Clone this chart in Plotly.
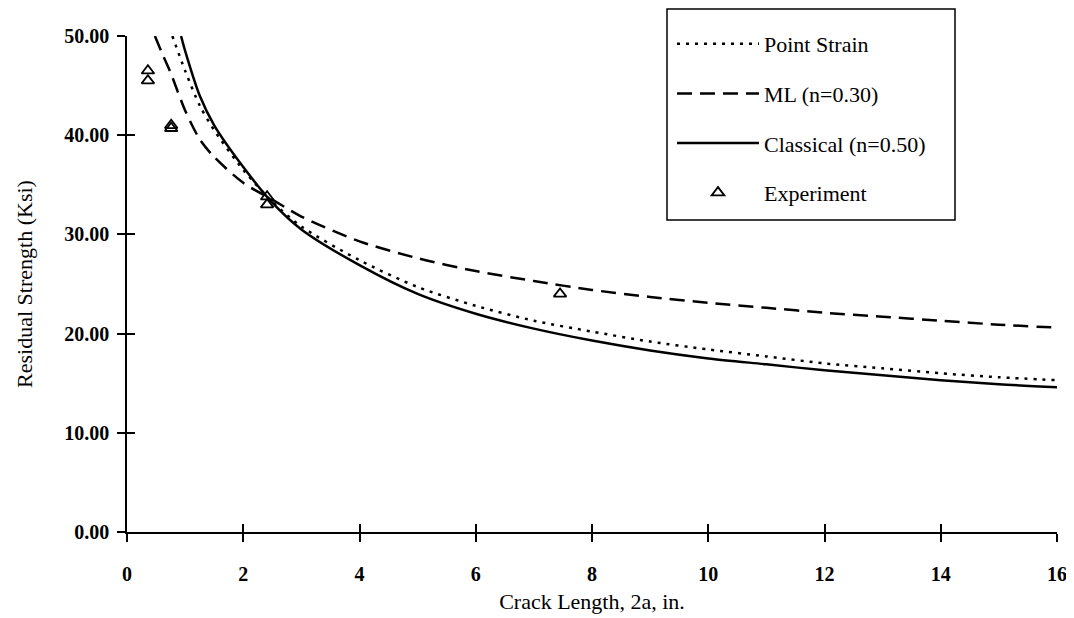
import plotly.graph_objects as go

# Point Strain (dotted)
ps_x = [0.78, 1.0, 1.25, 1.5, 2.0, 2.5, 3.0, 4, 5, 6, 7, 8, 9, 10, 11, 12, 13, 14, 15, 16]
ps_y = [50, 46.5, 43.0, 40.5, 36.5, 33.3, 30.8, 27.4, 24.7, 22.8, 21.3, 20.2, 19.2, 18.4, 17.7, 17.0, 16.5, 16.0, 15.6, 15.3]

# ML (n=0.30) (dashed)
ml_x = [0.48, 0.6, 0.75, 1.0, 1.25, 1.5, 2.0, 2.5, 3.0, 4, 5, 6, 7, 8, 9, 10, 11, 12, 13, 14, 15, 16]
ml_y = [50, 48.3, 46.3, 42.5, 39.6, 37.8, 35.2, 33.5, 31.8, 29.3, 27.6, 26.3, 25.3, 24.4, 23.7, 23.1, 22.6, 22.1, 21.7, 21.3, 20.9, 20.6]

# Classical (n=0.50) (solid)
cl_x = [0.93, 1.0, 1.25, 1.5, 2.0, 2.5, 3.0, 4, 5, 6, 7, 8, 9, 10, 11, 12, 13, 14, 15, 16]
cl_y = [50, 48.5, 44.0, 41.0, 36.8, 33.2, 30.5, 26.9, 24.0, 22.0, 20.5, 19.3, 18.3, 17.5, 16.9, 16.3, 15.8, 15.3, 14.9, 14.6]

# Experiment
ex_x = [0.36, 0.36, 0.76, 0.76, 2.41, 2.41, 7.45]
ex_y = [46.5, 45.5, 41.0, 40.7, 33.8, 33.0, 24.0]

x_ticks = [0, 2, 4, 6, 8, 10, 12, 14, 16]
y_ticks = [0, 10, 20, 30, 40, 50]

FONT = "Liberation Serif"

# page has an 8px body margin; work in figure pixel coordinates
OFF = 8
W, H = 1074 - OFF, 618 - OFF
ML, MR, MT, MB = 127 - OFF, 17, 0, 86
PW, PH = W - ML - MR, H - MT - MB
PLOT_TOP_PX = 36 - OFF


def px_x(px):
    return (px - ML) / PW


def px_y(py):
    return (H - MB - py) / PH


y_dom_top = px_y(PLOT_TOP_PX)

fig = go.Figure()
fig.add_trace(go.Scatter(x=ps_x, y=ps_y, mode="lines", name="Point Strain",
                         line=dict(color="black", width=2.5, dash="3px,6px",
                                   shape="spline", smoothing=0.8),
                         legendgroup="a"))
fig.add_trace(go.Scatter(x=ml_x, y=ml_y, mode="lines", name="ML (n=0.30)",
                         line=dict(color="black", width=2.5, dash="15px,8px",
                                   shape="spline", smoothing=0.8),
                         legendgroup="b"))
fig.add_trace(go.Scatter(x=cl_x, y=cl_y, mode="lines", name="Classical (n=0.50)",
                         line=dict(color="black", width=2.5,
                                   shape="spline", smoothing=0.8),
                         legendgroup="c"))
fig.add_trace(go.Scatter(x=ex_x, y=ex_y, mode="markers", name="Experiment",
                         marker=dict(symbol="triangle-up-open", size=11, color="black",
                                     line=dict(width=1.8, color="black")),
                         legendgroup="d"))

# overlay axis to make ticks cross the axis line
fig.add_trace(go.Scatter(x=[0, 16], y=[0, 50], xaxis="x2", yaxis="y2",
                         mode="markers", marker=dict(opacity=0), showlegend=False,
                         hoverinfo="skip"))

fig.update_layout(
    width=W, height=H,
    margin=dict(l=ML, r=MR, t=MT, b=MB, autoexpand=False),
    paper_bgcolor="white", plot_bgcolor="white",
    font=dict(family=FONT, color="black", size=20),
    xaxis=dict(range=[0, 16], tickvals=x_ticks, ticktext=[str(v) for v in x_ticks],
               showgrid=False, zeroline=False, showline=True, linecolor="black",
               linewidth=1.5, ticks="outside", ticklen=8, tickwidth=1.5,
               tickcolor="black", ticklabelstandoff=15, automargin=False,
               tickfont=dict(family=FONT, size=20, weight="bold"),
               title=dict(text="Crack Length, 2a, in.", font=dict(family=FONT, size=22),
                          standoff=10)),
    yaxis=dict(range=[0, 50], tickvals=y_ticks, tickformat=".2f", domain=[0, y_dom_top],
               showgrid=False, zeroline=False, showline=True, linecolor="black",
               linewidth=1.5, ticks="outside", ticklen=8, tickwidth=1.5,
               tickcolor="black", ticklabelstandoff=4, automargin=False,
               tickfont=dict(family=FONT, size=20, weight="bold"),
               title=dict(text="Residual Strength (Ksi)", font=dict(family=FONT, size=22),
                          standoff=26)),
    xaxis2=dict(range=[0, 16], tickvals=x_ticks, overlaying="x", showticklabels=False,
                showgrid=False, zeroline=False, showline=False, ticks="inside",
                ticklen=8, tickwidth=1.5, tickcolor="black", anchor="y2"),
    yaxis2=dict(range=[0, 50], tickvals=y_ticks, overlaying="y", showticklabels=False,
                domain=[0, y_dom_top],
                showgrid=False, zeroline=False, showline=False, ticks="inside",
                ticklen=8, tickwidth=1.5, tickcolor="black", anchor="x2"),
    legend=dict(x=px_x(672 - OFF), y=px_y(23 - OFF), xanchor="left", yanchor="top",
                borderwidth=0, bgcolor="rgba(0,0,0,0)",
                font=dict(family=FONT, size=22), tracegroupgap=18,
                itemwidth=82),
    showlegend=True,
    shapes=[dict(type="rect", xref="paper", yref="paper",
                 x0=px_x(667 - OFF), x1=px_x(955 - OFF),
                 y0=px_y(220 - OFF), y1=px_y(9 - OFF),
                 line=dict(color="black", width=1.5), fillcolor="rgba(0,0,0,0)")],
)

fig.write_html("out.html")
